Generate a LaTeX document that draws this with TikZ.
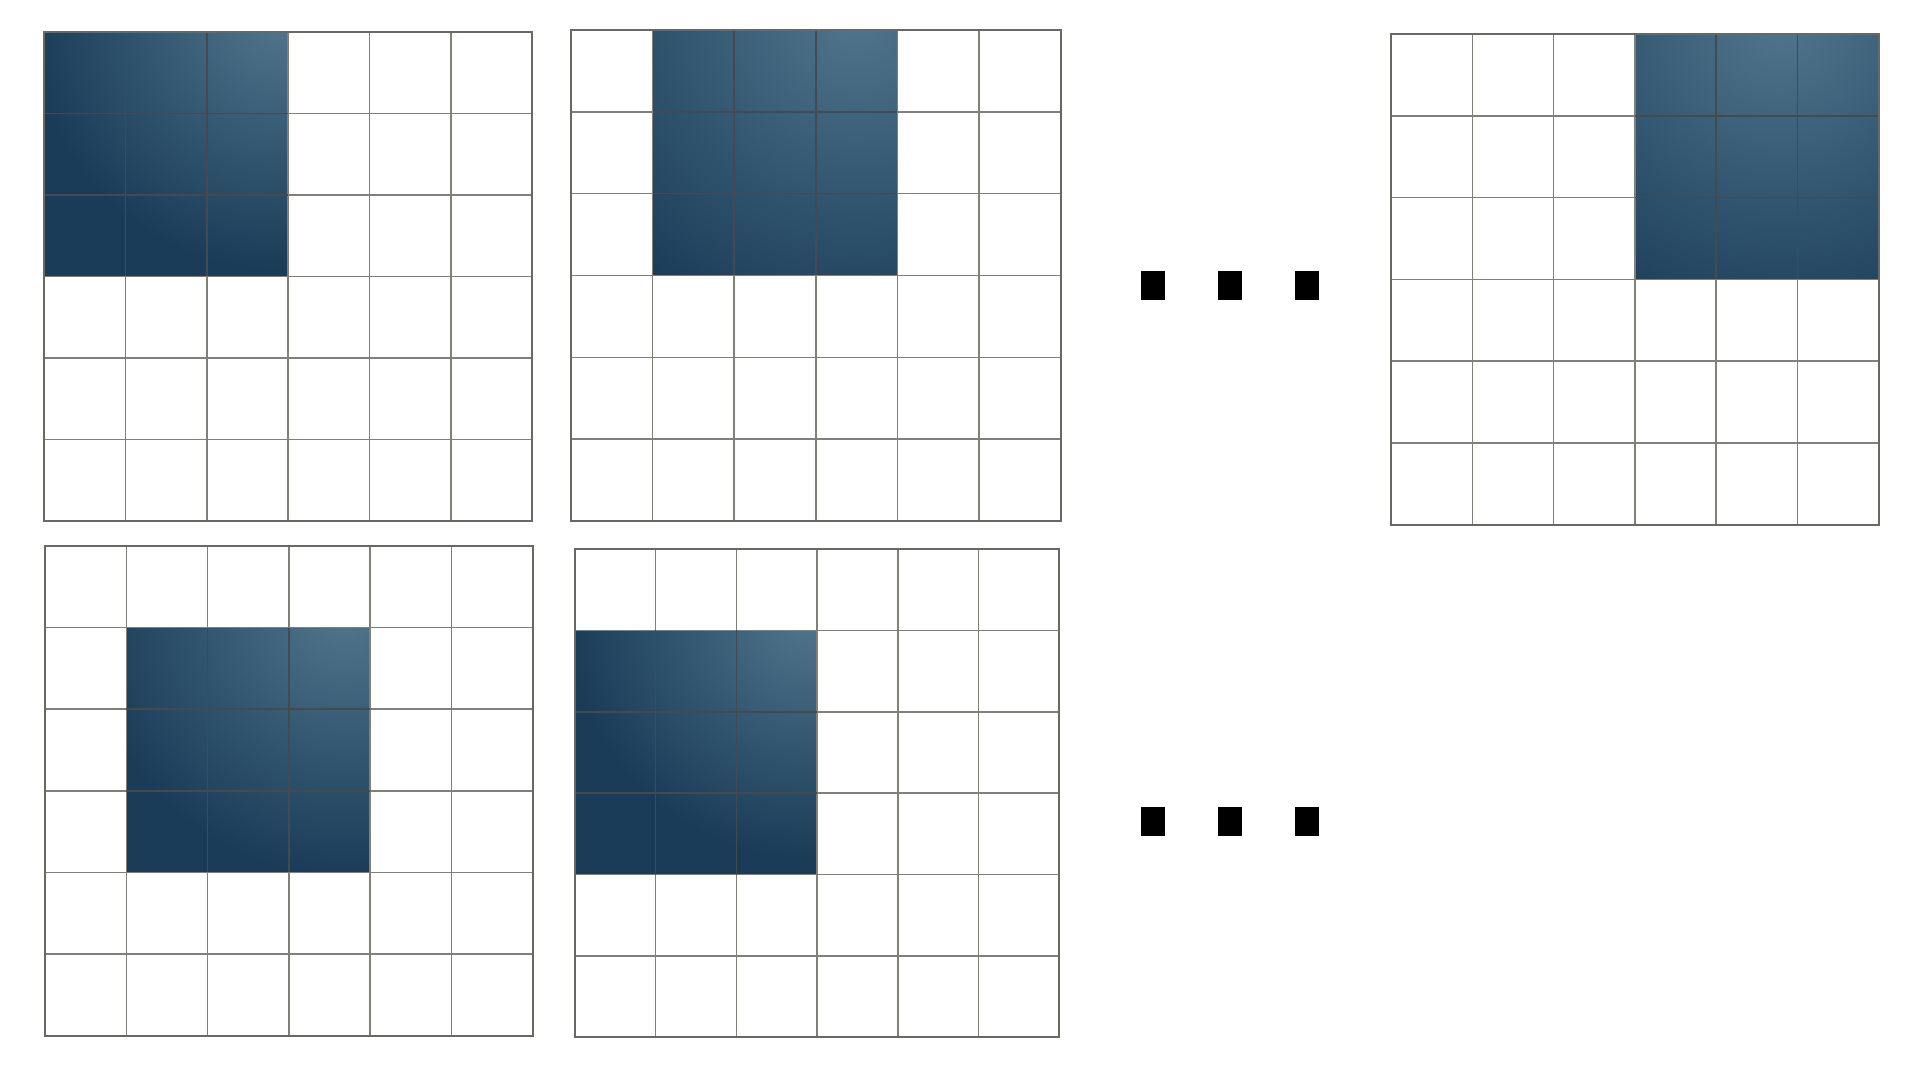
\documentclass[tikz,border=0pt]{standalone}
\usetikzlibrary{calc}
\definecolor{kDark}{RGB}{26,60,88}
\definecolor{kLight}{RGB}{80,117,140}
\definecolor{kLine}{RGB}{128,127,120}
\definecolor{kBorder}{RGB}{105,104,98}
\definecolor{kInner}{RGB}{70,74,76}
\tikzset{
  gridline/.style={draw=kLine, line width=0.75pt},
  gridborder/.style={draw=kBorder, line width=1pt},
  innerline/.style={draw=kInner, line width=0.75pt},
  dotbox/.style={fill=black, draw=none}
}
\newcommand\kgrid[8]{% #1 x0, #2 y0, #3 cell w, #4 cell h, #5 col, #6 row of 3x3 block, #7 shade radius, #8 light centre (cells from block left)
  \pgfmathsetmacro\bx{#1+#5*#3}
  \pgfmathsetmacro\by{#2+#6*#4}
  \pgfmathsetmacro\bX{\bx+3*#3}
  \pgfmathsetmacro\bY{\by+3*#4}
  \begin{scope}
    \clip (\bx,\by) rectangle (\bX,\bY);
    \fill[kDark] (\bx,\by) rectangle (\bX,\bY);
    \shade[inner color=kLight, outer color=kDark] ({\bx+#8*#3},{\by-0.15*#4}) circle[radius=#7];
  \end{scope}
  \foreach \i in {1,...,5} {
    \draw[gridline] ({#1+\i*#3},#2) -- ({#1+\i*#3},{#2+6*#4});
    \draw[gridline] (#1,{#2+\i*#4}) -- ({#1+6*#3},{#2+\i*#4});
  }
  \foreach \i in {1,2} {
    \draw[innerline] ({\bx+\i*#3},\by) -- ({\bx+\i*#3},\bY);
    \draw[innerline] (\bx,{\by+\i*#4}) -- (\bX,{\by+\i*#4});
  }
  \draw[gridborder] (#1,#2) rectangle ({#1+6*#3},{#2+6*#4});
}
\begin{document}
\begin{tikzpicture}[x=0.5pt,y=-0.5pt]
  \useasboundingbox[fill=white] (0,0) rectangle (1920,1080);
  % top row
  \kgrid{44}{32}{81.4}{81.5}{0}{0}{125pt}{2.9}
  \kgrid{571}{30}{81.6}{81.83}{1}{0}{165pt}{2.5}
  \kgrid{1391}{34}{81.3}{81.8}{3}{0}{165pt}{1.8}
  % bottom row
  \kgrid{45}{546}{81.3}{81.6}{1}{1}{130pt}{2.7}
  \kgrid{575}{549}{80.7}{81.4}{0}{1}{120pt}{2.9}
  % ellipsis marks
  \foreach \dx in {1141,1218,1295} {
    \fill[dotbox] (\dx,271) rectangle ++(24,29);
    \fill[dotbox] (\dx,807) rectangle ++(24,29);
  }
\end{tikzpicture}
\end{document}
